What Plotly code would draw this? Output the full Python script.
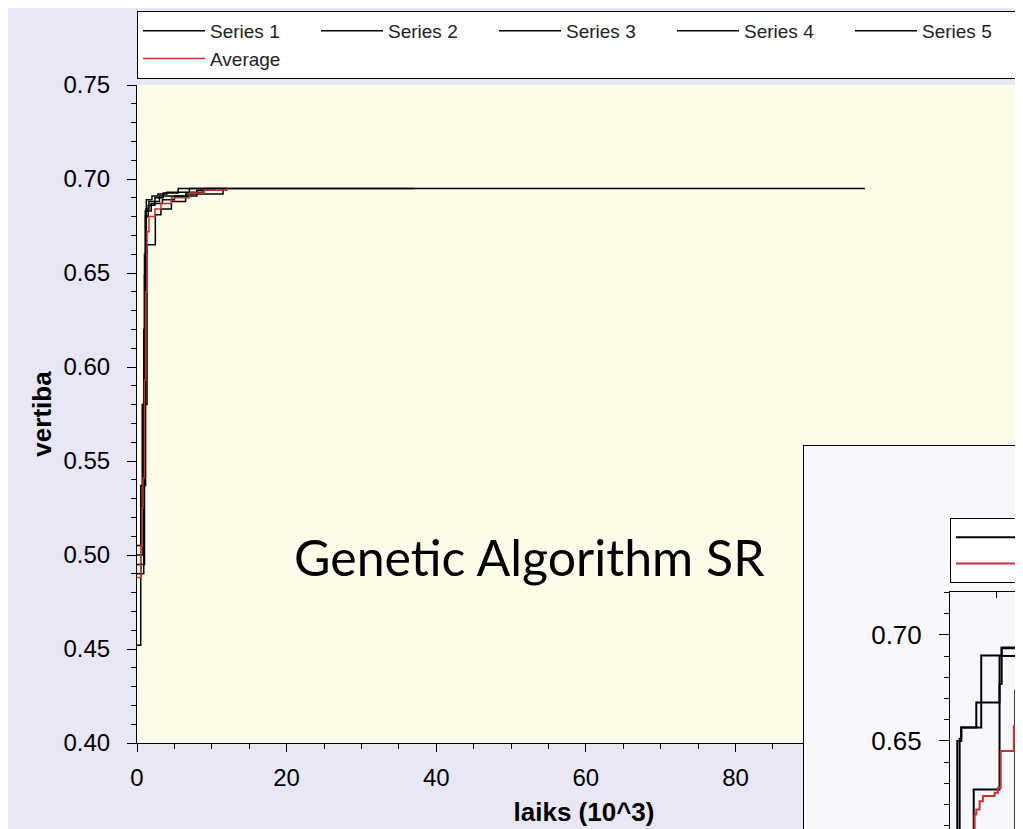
import plotly.graph_objects as go

# ---------------- data (main chart: x in 10^3, y = vertiba) ----------------
s1_x = [0, 0.5, 1.15, 1.5, 2.4, 3.5, 5.5, 97.3]
s1_y = [0.452, 0.537, 0.680, 0.686, 0.690, 0.6925, 0.695, 0.695]
s2_x = [0, 0.7, 1.0, 1.2, 1.6, 3.0, 7.0, 37.0]
s2_y = [0.505, 0.580, 0.649, 0.684, 0.688, 0.691, 0.695, 0.695]
s3_x = [0, 0.8, 1.34, 2.45, 3.2, 4.6, 6.5, 11.5]
s3_y = [0.500, 0.580, 0.665, 0.681, 0.684, 0.688, 0.692, 0.695]
s4_x = [0, 0.9, 1.1, 1.9, 3.4, 5.0, 8.0, 10.5]
s4_y = [0.490, 0.620, 0.683, 0.687, 0.689, 0.691, 0.694, 0.695]
s5_x = [0, 1.0, 1.25, 2.0, 2.8, 4.0, 9.0, 12.0]
s5_y = [0.495, 0.660, 0.689, 0.691, 0.692, 0.693, 0.695, 0.695]
avg_x = [0, 0.5, 0.7, 0.8, 1.0, 1.15, 1.34, 1.6, 2.4, 3.2, 4.6, 7.0, 9.0, 12.0]
avg_y = [0.488, 0.505, 0.525, 0.541, 0.593, 0.640, 0.672, 0.680, 0.684, 0.687, 0.690, 0.6925, 0.694, 0.695]

# ---------------- data (inset chart, partly visible) ----------------
i1_x = [0, 0.31, 0.48, 1.12, 2.11, 2.97, 10]
i1_y = [0.55, 0.650, 0.6563, 0.6681, 0.690, 0.6930, 0.6935]
i2_x = [0, 0.41, 0.48, 1.33, 2.2, 10]
i2_y = [0.56, 0.651, 0.6563, 0.6903, 0.6940, 0.6942]
i3_x = [0, 1.01, 2.11, 2.2, 10]
i3_y = [0.57, 0.6271, 0.6768, 0.6937, 0.6940]
i4_x = [0, 2.78, 2.89, 3.2, 10]
i4_y = [0.58, 0.6737, 0.6903, 0.6930, 0.6938]
i5_x = [0, 2.97, 3.15, 3.4, 10]
i5_y = [0.58, 0.6863, 0.6890, 0.6920, 0.6938]
iavg_x = [0, 1.05, 1.12, 1.26, 1.40, 1.90, 2.04, 2.16, 2.72, 2.82, 2.95, 3.3, 10]
iavg_y = [0.57, 0.6153, 0.6177, 0.6216, 0.6240, 0.6256, 0.6279, 0.6453, 0.6570, 0.6690, 0.6900, 0.6925, 0.6936]

series_names = ["Series 1", "Series 2", "Series 3", "Series 4", "Series 5"]
main_series = [(s1_x, s1_y), (s2_x, s2_y), (s3_x, s3_y), (s4_x, s4_y), (s5_x, s5_y)]
inset_series = [(i1_x, i1_y), (i2_x, i2_y), (i3_x, i3_y), (i4_x, i4_y), (i5_x, i5_y)]

x_main_range = [0, 119.5]
y_main_range = [0.40, 0.75]
x_inset_range = [0, 3.45]
y_inset_range = [0.6047, 0.7202]

# ---------------- layout geometry ----------------
W, H = 1023, 829
def fx(p):
    return p / W
def fy(p):
    return 1 - p / H

FONT = "Liberation Sans, Arial, sans-serif"
RED = "#c83232"

fig = go.Figure()

for (xs, ys), name in zip(main_series, series_names):
    fig.add_trace(go.Scatter(x=xs, y=ys, name=name, mode="lines",
                             line=dict(shape="hv", color="black", width=1.5),
                             xaxis="x", yaxis="y", legend="legend"))
fig.add_trace(go.Scatter(x=avg_x, y=avg_y, name="Average", mode="lines",
                         line=dict(shape="hv", color=RED, width=1.5),
                         xaxis="x", yaxis="y", legend="legend"))

# empty holder so that the inset panel subplot is created before the inset plot
fig.add_trace(go.Scatter(x=[None], y=[None], mode="lines", showlegend=False,
                         hoverinfo="skip", xaxis="x2", yaxis="y2"))

for k, ((xs, ys), name) in enumerate(zip(inset_series, series_names)):
    fig.add_trace(go.Scatter(x=xs, y=ys, name=name, mode="lines",
                             line=dict(shape="hv", color="black", width=2),
                             xaxis="x3", yaxis="y3", legend="legend2",
                             showlegend=(k == 0)))
fig.add_trace(go.Scatter(x=iavg_x, y=iavg_y, name="Average", mode="lines",
                         line=dict(shape="hv", color=RED, width=2),
                         xaxis="x3", yaxis="y3", legend="legend2"))

tickfont = dict(family=FONT, size=24, color="black")
titlefont = dict(family=FONT, size=26, color="black", weight="bold")
common = dict(showgrid=False, zeroline=False, fixedrange=True,
              linecolor="black", linewidth=1, tickcolor="black", tickwidth=1)

fig.update_layout(
    width=W, height=H,
    margin=dict(l=0, r=0, t=0, b=0, pad=0, autoexpand=False),
    paper_bgcolor="#e7e7f6",
    plot_bgcolor="#f8f8fc",
    showlegend=True,
    hovermode=False,
    # ---- main chart ----
    xaxis=dict(domain=[fx(129), 1.0], range=x_main_range, anchor="y", side="bottom",
               showline=True, ticks="outside", ticklen=8, dtick=20, tick0=0,
               minor=dict(dtick=5, ticks="outside", ticklen=5, tickcolor="black"),
               tickfont=tickfont, ticklabelstandoff=5,
               title=dict(text="laiks (10^3)", font=titlefont, standoff=13), **common),
    xaxis4=dict(overlaying="x", anchor="y", side="bottom", range=x_main_range,
                showline=False, ticks="inside", ticklen=8, dtick=20, tick0=0,
                minor=dict(dtick=5, ticks="inside", ticklen=5, tickcolor="black"),
                showticklabels=False, **common),
    xaxis5=dict(overlaying="x", anchor="y", side="top", range=x_main_range,
                showline=True, ticks="inside", ticklen=10, dtick=20, tick0=0,
                minor=dict(dtick=5, ticks="inside", ticklen=6, tickcolor="black"),
                showticklabels=False, **common),
    yaxis=dict(domain=[fy(735), fy(77)], range=y_main_range, anchor="x", side="left",
               showline=True, ticks="outside", ticklen=9, dtick=0.05, tick0=0.4,
               tickformat=".2f",
               minor=dict(dtick=0.01, ticks="outside", ticklen=5, tickcolor="black"),
               tickfont=tickfont, ticklabelstandoff=12,
               title=dict(text="vertiba", font=titlefont, standoff=4), **common),
    yaxis4=dict(overlaying="y", anchor="x", side="left", range=y_main_range,
                showline=False, ticks="inside", ticklen=9, dtick=0.05, tick0=0.4,
                minor=dict(dtick=0.01, ticks="inside", ticklen=5, tickcolor="black"),
                showticklabels=False, **common),
    yaxis5=dict(overlaying="y", anchor="x", side="right", range=y_main_range,
                showline=False, ticks="inside", ticklen=10, dtick=0.05, tick0=0.4,
                minor=dict(dtick=0.01, ticks="inside", ticklen=5, tickcolor="black"),
                showticklabels=False, **common),
    # ---- inset panel (frame) ----
    xaxis2=dict(domain=[fx(796), 1.0], range=[0, 1], anchor="y2", side="top",
                showline=True, ticks="", showticklabels=False, **common),
    yaxis2=dict(domain=[0.0, fy(438)], range=[0, 1], anchor="x2", side="left",
                showline=True, ticks="", showticklabels=False, **common),
    # ---- inset plot ----
    xaxis3=dict(domain=[fx(942), 1.0], range=x_inset_range, anchor="y3", side="top",
                showline=True, ticks="inside", ticklen=6, dtick=2, tick0=0,
                showticklabels=False, **common),
    yaxis3=dict(domain=[0.0, fy(584)], range=y_inset_range, anchor="x3", side="left",
                showline=True, ticks="outside", ticklen=10, dtick=0.05, tick0=0.6,
                tickformat=".2f", ticklabelstandoff=12,
                minor=dict(dtick=0.01, ticks="outside", ticklen=5, tickcolor="black"),
                tickfont=dict(family=FONT, size=26, color="black"), **common),
    yaxis6=dict(overlaying="y3", anchor="x3", side="left", range=y_inset_range,
                showline=False, ticks="inside", ticklen=10, dtick=0.05, tick0=0.6,
                minor=dict(dtick=0.01, ticks="inside", ticklen=5, tickcolor="black"),
                showticklabels=False, **common),
    legend=dict(x=fx(129), y=fy(3), xanchor="left", yanchor="top", orientation="h",
                bgcolor="white", bordercolor="black", borderwidth=1,
                font=dict(family=FONT, size=19, color="#222222"),
                itemwidth=62, entrywidth=101, entrywidthmode="pixels",
                tracegroupgap=0, itemclick=False, itemdoubleclick=False),
    legend2=dict(x=fx(942), y=fy(510), xanchor="left", yanchor="top", orientation="v",
                 bgcolor="white", bordercolor="black", borderwidth=1,
                 font=dict(family=FONT, size=18, color="#222222"),
                 itemwidth=64, tracegroupgap=0, itemclick=False, itemdoubleclick=False),
    shapes=[dict(type="rect", xref="x domain", yref="y domain", x0=0, x1=1, y0=0, y1=1,
                 fillcolor="#fcfce8", line=dict(width=0), layer="below")],
    annotations=[dict(text="Genetic Algorithm SR", x=fx(521), y=fy(549),
                      xref="paper", yref="paper", xanchor="center", yanchor="middle",
                      showarrow=False,
                      font=dict(family="Lato, Open Sans, sans-serif", size=50, color="black"))],
)

fig.write_html("out.html")
